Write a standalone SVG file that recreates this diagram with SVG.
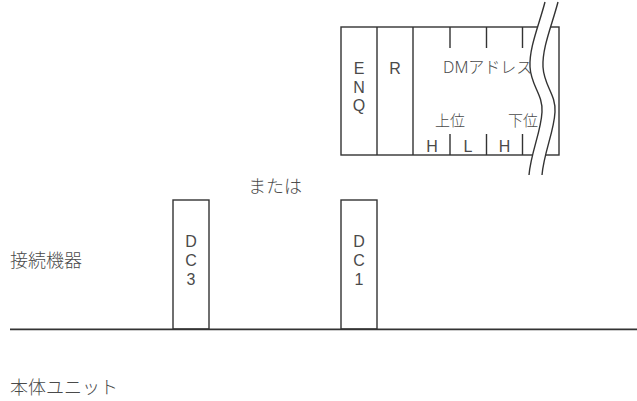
<svg xmlns="http://www.w3.org/2000/svg" width="637" height="401" viewBox="0 0 637 401">
<style>
.ln{fill:none;stroke:#333;stroke-width:1.4}
.bx{fill:#fff;stroke:#333;stroke-width:1.4}
.t{font-family:"Noto Sans","Noto Sans CJK JP",sans-serif;font-weight:300;fill:#4a4a4a}
.a{font-family:"Liberation Sans",Arial,sans-serif;fill:#4a4a4a;font-size:16px;text-anchor:middle}
.j{font-family:"Noto Sans CJK JP",sans-serif;font-weight:300;fill:#4a4a4a}
.s{font-size:16px}
.c{font-size:15px}
.lb{font-size:18px}
</style>
<rect width="637" height="401" fill="#fff"/>
<g id="message-frame">
<rect class="bx" x="341" y="27" width="218" height="128"/>
<path class="ln" d="M377,27V155M413,27V155M450,27V48M486.5,27V48M522.5,27V48M450,134V155M486.5,134V155M522.5,134V155"/>
<text class="a" x="359" y="74"><tspan x="359">E</tspan><tspan x="359" dy="18.5">N</tspan><tspan x="359" dy="18.5">Q</tspan></text>
<g class="a">
<text x="395" y="74">R</text>
<text x="432" y="151.5">H</text>
<text x="468" y="151.5">L</text>
<text x="504.5" y="151.5">H</text>
<text x="541" y="151.5">L</text>
</g>
<text class="t s" x="443" y="73">DMアドレス</text>
<g class="j c">
<text x="435" y="125.5">上位</text>
<text x="508" y="125.5">下位</text>
</g>
<path fill="#fff" stroke="none" d="M545,2 L558,2 C552,25 542,48 543,67 C544,86 556,94 555,112 C554,132 544,152 542,175 L529,175 C531,152 541,132 542,112 C543,94 531,86 530,67 C529,48 539,25 545,2 Z"/>
<path class="ln" d="M558,2 C552,25 542,48 543,67 C544,86 556,94 555,112 C554,132 544,152 542,175"/>
<path class="ln" d="M545,2 C539,25 529,48 530,67 C531,86 543,94 542,112 C541,132 531,152 529,175"/>
</g>
<g id="label-or">
<text class="j lb" x="248" y="193">または</text>
</g>
<g id="label-device">
<text class="j lb" x="10" y="267">接続機器</text>
</g>
<g id="label-unit">
<text class="j lb" x="10" y="394">本体ユニット</text>
</g>
<g id="dc3">
<rect class="bx" x="173" y="200" width="36" height="129"/>
<text class="a" x="191" y="246.5"><tspan x="191">D</tspan><tspan x="191" dy="19">C</tspan><tspan x="191" dy="19">3</tspan></text>
</g>
<g id="dc1">
<rect class="bx" x="341" y="200" width="36" height="129"/>
<text class="a" x="359" y="246.5"><tspan x="359">D</tspan><tspan x="359" dy="19">C</tspan><tspan x="359" dy="19">1</tspan></text>
</g>
<g id="connectors">
<line x1="10" y1="329.3" x2="637" y2="329.3" stroke="#333" stroke-width="1.8"/>
</g>
</svg>
